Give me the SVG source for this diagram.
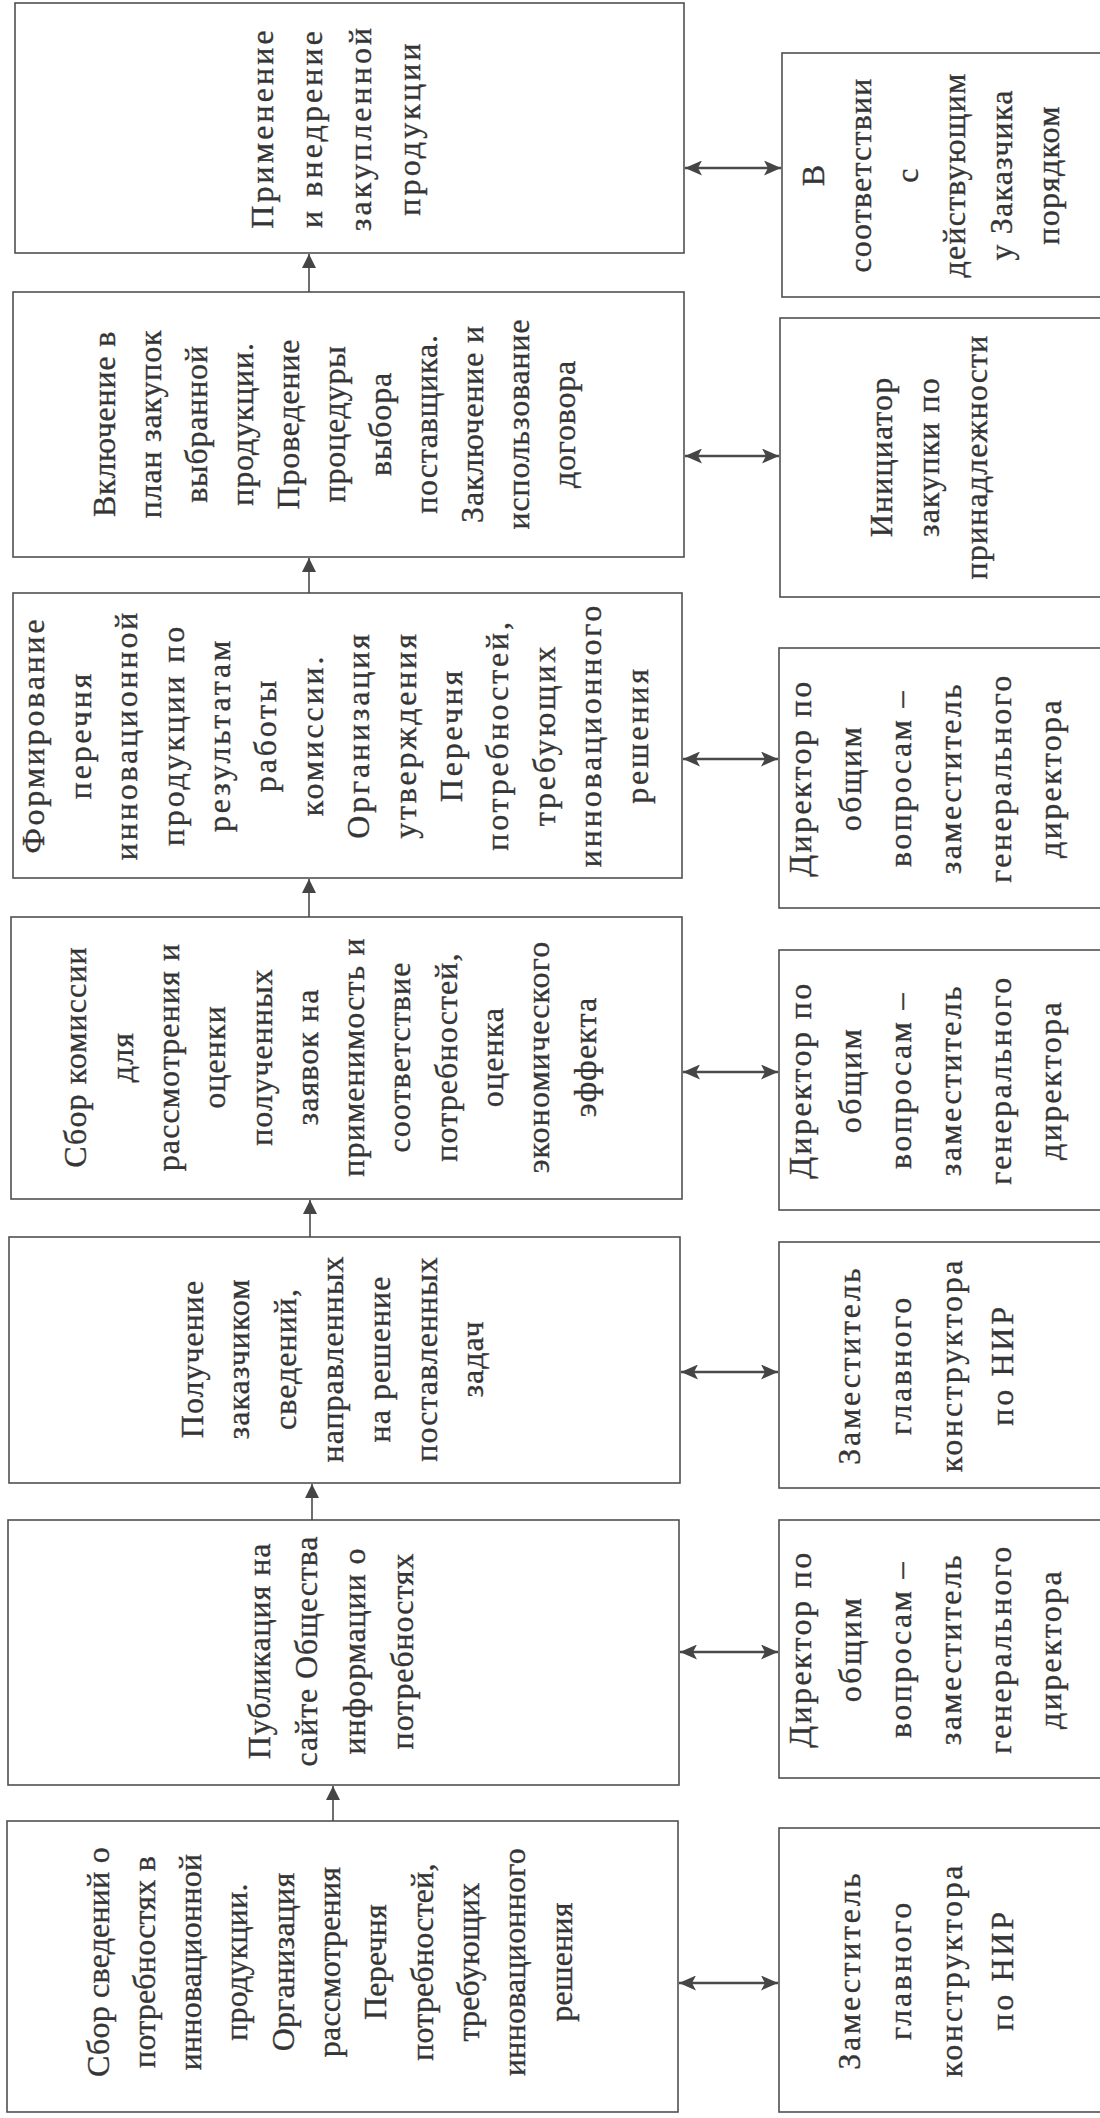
<svg xmlns="http://www.w3.org/2000/svg" width="1100" height="2118" viewBox="0 0 1100 2118">
<style>
.bg{fill:#ffffff}
.box{fill:#ffffff;stroke:#505050;stroke-width:1.6}
.t{font-family:"Liberation Serif","Times New Roman",serif;font-size:32px;fill:#353535;stroke:#353535;stroke-width:0.35;text-anchor:middle}
.con line{stroke:#4a4a4a;stroke-width:1.6}
.con .dbl{stroke-width:2.4}
</style>
<defs>
<marker id="ah" viewBox="0 0 14 14" refX="14" refY="7" markerWidth="14" markerHeight="14" markerUnits="userSpaceOnUse" orient="auto-start-reverse"><path d="M0,0 L14,7 L0,14 Z" fill="#454545"/></marker>
<marker id="ad" viewBox="0 0 17 15" refX="17" refY="7.5" markerWidth="17" markerHeight="15" markerUnits="userSpaceOnUse" orient="auto-start-reverse"><path d="M0,0 L17,7.5 L0,15 L4,7.5 Z" fill="#454545"/></marker>
</defs>
<rect class="bg" x="0" y="0" width="1100" height="2118"/>

<g id="nodeA">
<rect class="box" x="15" y="3" width="669" height="250"/>
<text class="t" style="letter-spacing:3.1px" transform="translate(346,128) rotate(-90)"><tspan x="0" y="-73.5">Применение</tspan><tspan x="0" y="-24.5">и внедрение</tspan><tspan x="0" y="24.5">закупленной</tspan><tspan x="0" y="73.5">продукции</tspan></text>
</g>

<g id="nodeB">
<rect class="box" x="13" y="292" width="671" height="265"/>
<text class="t" style="letter-spacing:0.8px" transform="translate(345,424) rotate(-90)"><tspan x="0" y="-230">Включение в</tspan><tspan x="0" y="-184">план закупок</tspan><tspan x="0" y="-138">выбранной</tspan><tspan x="0" y="-92">продукции.</tspan><tspan x="0" y="-46">Проведение</tspan><tspan x="0" y="0">процедуры</tspan><tspan x="0" y="46">выбора</tspan><tspan x="0" y="92">поставщика.</tspan><tspan x="0" y="138">Заключение и</tspan><tspan x="0" y="184">использование</tspan><tspan x="0" y="230">договора</tspan></text>
</g>

<g id="nodeC">
<rect class="box" x="13" y="593" width="669" height="285"/>
<text class="t" style="letter-spacing:2.8px" transform="translate(346,735) rotate(-90)"><tspan x="0" y="-301.6">Формирование</tspan><tspan x="0" y="-255.2">перечня</tspan><tspan x="0" y="-208.8">инновационной</tspan><tspan x="0" y="-162.4">продукции по</tspan><tspan x="0" y="-116">результатам</tspan><tspan x="0" y="-69.6">работы</tspan><tspan x="0" y="-23.2">комиссии.</tspan><tspan x="0" y="23.2">Организация</tspan><tspan x="0" y="69.6">утверждения</tspan><tspan x="0" y="116">Перечня</tspan><tspan x="0" y="162.4">потребностей,</tspan><tspan x="0" y="208.8">требующих</tspan><tspan x="0" y="255.2">инновационного</tspan><tspan x="0" y="301.6">решения</tspan></text>
</g>

<g id="nodeD">
<rect class="box" x="11" y="917" width="671" height="282"/>
<text class="t" style="letter-spacing:1.1px" transform="translate(341,1057) rotate(-90)"><tspan x="0" y="-254.65">Сбор комиссии</tspan><tspan x="0" y="-208.35">для</tspan><tspan x="0" y="-162.05">рассмотрения и</tspan><tspan x="0" y="-115.75">оценки</tspan><tspan x="0" y="-69.45">полученных</tspan><tspan x="0" y="-23.15">заявок на</tspan><tspan x="0" y="23.15">применимость и</tspan><tspan x="0" y="69.45">соответствие</tspan><tspan x="0" y="115.75">потребностей,</tspan><tspan x="0" y="162.05">оценка</tspan><tspan x="0" y="208.35">экономического</tspan><tspan x="0" y="254.65">эффекта</tspan></text>
</g>

<g id="nodeE">
<rect class="box" x="9" y="1237" width="671" height="246"/>
<text class="t" style="letter-spacing:1px" transform="translate(343,1359) rotate(-90)"><tspan x="0" y="-140.4">Получение</tspan><tspan x="0" y="-93.6">заказчиком</tspan><tspan x="0" y="-46.8">сведений,</tspan><tspan x="0" y="0">направленных</tspan><tspan x="0" y="46.8">на решение</tspan><tspan x="0" y="93.6">поставленных</tspan><tspan x="0" y="140.4">задач</tspan></text>
</g>

<g id="nodeF">
<rect class="box" x="8" y="1520" width="671" height="265"/>
<text class="t" style="letter-spacing:0.9px" transform="translate(341,1651) rotate(-90)"><tspan x="0" y="-71.5">Публикация на</tspan><tspan x="0" y="-23.8">сайте Общества</tspan><tspan x="0" y="23.8">информации о</tspan><tspan x="0" y="71.5">потребностях</tspan></text>
</g>

<g id="nodeG">
<rect class="box" x="7" y="1821" width="671" height="291"/>
<text class="t" style="letter-spacing:0.2px" transform="translate(340,1962) rotate(-90)"><tspan x="0" y="-231.5">Сбор сведений о</tspan><tspan x="0" y="-185.2">потребностях в</tspan><tspan x="0" y="-138.9">инновационной</tspan><tspan x="0" y="-92.6">продукции.</tspan><tspan x="0" y="-46.3">Организация</tspan><tspan x="0" y="0">рассмотрения</tspan><tspan x="0" y="46.3">Перечня</tspan><tspan x="0" y="92.6">потребностей,</tspan><tspan x="0" y="138.9">требующих</tspan><tspan x="0" y="185.2">инновационного</tspan><tspan x="0" y="231.5">решения</tspan></text>
</g>

<g id="nodeR1">
<rect class="box" x="782" y="53" width="340" height="244"/>
<text class="t" style="letter-spacing:1.2px" transform="translate(941,175) rotate(-90)"><tspan x="0" y="-117.5">В</tspan><tspan x="0" y="-70.5">соответствии</tspan><tspan x="0" y="-23.5">с</tspan><tspan x="0" y="23.5">действующим</tspan><tspan x="0" y="70.5">у Заказчика</tspan><tspan x="0" y="117.5">порядком</tspan></text>
</g>

<g id="nodeR2">
<rect class="box" x="780" y="318" width="340" height="279"/>
<text class="t" style="letter-spacing:1.1px" transform="translate(939,457) rotate(-90)"><tspan x="0" y="-47.5">Инициатор</tspan><tspan x="0" y="0">закупки по</tspan><tspan x="0" y="47.5">принадлежности</tspan></text>
</g>

<g id="nodeR3">
<rect class="box" x="779" y="648" width="340" height="260"/>
<text class="t" style="letter-spacing:2.4px" transform="translate(936,778) rotate(-90)"><tspan x="0" y="-125">Директор по</tspan><tspan x="0" y="-75">общим</tspan><tspan x="0" y="-25">вопросам –</tspan><tspan x="0" y="25">заместитель</tspan><tspan x="0" y="75">генерального</tspan><tspan x="0" y="125">директора</tspan></text>
</g>

<g id="nodeR4">
<rect class="box" x="779" y="950" width="340" height="260"/>
<text class="t" style="letter-spacing:2.4px" transform="translate(936,1080) rotate(-90)"><tspan x="0" y="-125">Директор по</tspan><tspan x="0" y="-75">общим</tspan><tspan x="0" y="-25">вопросам –</tspan><tspan x="0" y="25">заместитель</tspan><tspan x="0" y="75">генерального</tspan><tspan x="0" y="125">директора</tspan></text>
</g>

<g id="nodeR5">
<rect class="box" x="779" y="1242" width="340" height="246"/>
<text class="t" style="letter-spacing:2.7px" transform="translate(936,1365) rotate(-90)"><tspan x="0" y="-76.5">Заместитель</tspan><tspan x="0" y="-25.5">главного</tspan><tspan x="0" y="25.5">конструктора</tspan><tspan x="0" y="76.5">по НИР</tspan></text>
</g>

<g id="nodeR6">
<rect class="box" x="779" y="1520" width="340" height="258"/>
<text class="t" style="letter-spacing:2.4px" transform="translate(936,1649) rotate(-90)"><tspan x="0" y="-125">Директор по</tspan><tspan x="0" y="-75">общим</tspan><tspan x="0" y="-25">вопросам –</tspan><tspan x="0" y="25">заместитель</tspan><tspan x="0" y="75">генерального</tspan><tspan x="0" y="125">директора</tspan></text>
</g>

<g id="nodeR7">
<rect class="box" x="779" y="1828" width="340" height="284"/>
<text class="t" style="letter-spacing:2.7px" transform="translate(936,1970) rotate(-90)"><tspan x="0" y="-76.5">Заместитель</tspan><tspan x="0" y="-25.5">главного</tspan><tspan x="0" y="25.5">конструктора</tspan><tspan x="0" y="76.5">по НИР</tspan></text>
</g>

<g id="connectors" class="con">
<line x1="309" y1="292" x2="309" y2="254" marker-end="url(#ah)"/>
<line x1="309" y1="593" x2="309" y2="558" marker-end="url(#ah)"/>
<line x1="309" y1="917" x2="309" y2="879" marker-end="url(#ah)"/>
<line x1="310" y1="1237" x2="310" y2="1200" marker-end="url(#ah)"/>
<line x1="312" y1="1520" x2="312" y2="1484" marker-end="url(#ah)"/>
<line x1="333" y1="1821" x2="333" y2="1786" marker-end="url(#ah)"/>
<line class="dbl" x1="685" y1="168" x2="781" y2="168" marker-start="url(#ad)" marker-end="url(#ad)"/>
<line class="dbl" x1="685" y1="456" x2="779" y2="456" marker-start="url(#ad)" marker-end="url(#ad)"/>
<line class="dbl" x1="683" y1="759" x2="778" y2="759" marker-start="url(#ad)" marker-end="url(#ad)"/>
<line class="dbl" x1="683" y1="1072" x2="778" y2="1072" marker-start="url(#ad)" marker-end="url(#ad)"/>
<line class="dbl" x1="681" y1="1372" x2="778" y2="1372" marker-start="url(#ad)" marker-end="url(#ad)"/>
<line class="dbl" x1="680" y1="1652" x2="778" y2="1652" marker-start="url(#ad)" marker-end="url(#ad)"/>
<line class="dbl" x1="679" y1="1983" x2="778" y2="1983" marker-start="url(#ad)" marker-end="url(#ad)"/>
</g>
</svg>
